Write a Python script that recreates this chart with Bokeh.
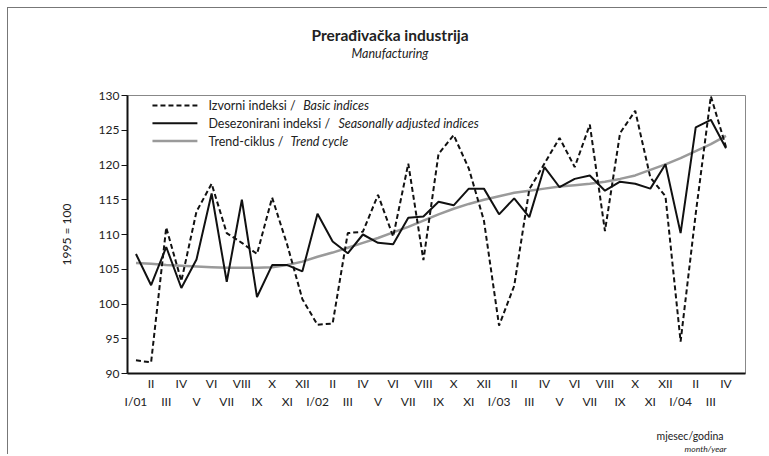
from bokeh.plotting import figure
from bokeh.models import ColumnDataSource, LinearAxis, FixedTicker, Range1d, Title
from bokeh.core.properties import value
from bokeh.embed import file_html
from bokeh.resources import INLINE

# ---- data ----
months = ["I/01", "II", "III", "IV", "V", "VI", "VII", "VIII", "IX", "X", "XI", "XII",
          "I/02", "II", "III", "IV", "V", "VI", "VII", "VIII", "IX", "X", "XI", "XII",
          "I/03", "II", "III", "IV", "V", "VI", "VII", "VIII", "IX", "X", "XI", "XII",
          "I/04", "II", "III", "IV"]
basic = [91.9, 91.6, 111.0, 103.3, 113.3, 117.3, 110.2, 108.8, 107.2, 115.3, 108.5, 100.7,
         97.0, 97.2, 110.2, 110.4, 115.7, 109.7, 120.2, 106.3, 121.6, 124.3, 119.5, 112.0,
         96.9, 102.6, 116.5, 120.2, 123.9, 119.7, 125.8, 110.5, 124.6, 127.8, 118.2, 115.5,
         94.6, 113.0, 129.9, 122.6]
adjusted = [107.2, 102.7, 108.2, 102.3, 106.4, 115.9, 103.2, 115.0, 101.0, 105.6, 105.6, 104.7,
            113.0, 109.0, 107.3, 110.0, 108.8, 108.6, 112.4, 112.6, 114.7, 114.2, 116.6, 116.6,
            112.9, 115.2, 112.5, 119.7, 116.8, 118.0, 118.5, 116.3, 117.6, 117.3, 116.6, 120.1,
            110.2, 125.4, 126.5, 122.4]
trend = [105.9, 105.8, 105.6, 105.5, 105.4, 105.3, 105.2, 105.2, 105.2, 105.3, 105.6, 106.1,
         106.8, 107.4, 108.1, 108.8, 109.5, 110.3, 111.1, 112.0, 112.9, 113.7, 114.4, 115.0,
         115.5, 116.0, 116.3, 116.6, 116.9, 117.1, 117.3, 117.6, 118.0, 118.5, 119.3, 120.1,
         121.0, 122.0, 123.0, 124.2]
y_ticks = [90, 95, 100, 105, 110, 115, 120, 125, 130]

series_roman = ["Izvorni indeksi / ", "Desezonirani indeksi / ", "Trend-ciklus / "]
series_italic = ["Basic indices", "Seasonally adjusted indices", "Trend cycle"]

FONT = "Lato"
TXT = "#222222"

x = list(range(len(months)))
src = ColumnDataSource(dict(x=x, basic=basic, adjusted=adjusted, trend=trend))

p = figure(width=760, height=447, output_backend="svg", toolbar_location=None, tools="",
           x_range=Range1d(-0.56, 40.29), y_range=Range1d(90, 130),
           min_border_left=119, min_border_right=23, min_border_top=87, min_border_bottom=82)
p.background_fill_color = "white"
p.border_fill_color = "white"
p.outline_line_color = "#888888"
p.outline_line_width = 1
p.grid.visible = False

p.line("x", "trend", source=src, line_color="#9a9a9a", line_width=2.5)
p.line("x", "adjusted", source=src, line_color="#111111", line_width=2)
p.line("x", "basic", source=src, line_color="#111111", line_width=2, line_dash="5 3")

# y axis
ya = p.yaxis[0]
ya.ticker = FixedTicker(ticks=y_ticks)
ya.axis_line_color = "#111111"
ya.axis_line_width = 2
ya.major_tick_out = 6
ya.major_tick_in = 0
ya.minor_tick_line_color = None
ya.major_tick_line_color = "#111111"
ya.major_label_text_font = FONT
ya.major_label_text_font_size = "12px"
ya.major_label_text_color = TXT
ya.major_label_standoff = 2
ya.axis_label = "1995 = 100"
ya.axis_label_text_font = FONT
ya.axis_label_text_font_size = "12px"
ya.axis_label_text_font_style = "normal"
ya.axis_label_text_color = TXT
ya.axis_label_standoff = 22

# x axes: two rows of month labels
odd = [i for i in x if i % 2 == 1]
even = [i for i in x if i % 2 == 0]
xa = p.xaxis[0]
xa.ticker = FixedTicker(ticks=odd)
xa.major_label_overrides = {i: months[i] for i in odd}
xa.axis_line_color = "#111111"
xa.axis_line_width = 2
xa.major_tick_line_color = None
xa.minor_tick_line_color = None
xa.major_tick_out = 0
xa.major_tick_in = 0
xa.major_label_standoff = 2
xa.major_label_text_font = FONT
xa.major_label_text_font_size = "12px"
xa.major_label_text_color = TXT

xb = LinearAxis(ticker=FixedTicker(ticks=even),
                major_label_overrides={i: months[i] for i in even})
xb.axis_line_color = None
xb.major_tick_line_color = None
xb.minor_tick_line_color = None
xb.major_tick_out = 0
xb.major_tick_in = 0
xb.major_label_standoff = 0
xb.major_label_text_font = FONT
xb.major_label_text_font_size = "12px"
xb.major_label_text_color = TXT
p.add_layout(xb, "below")

# legend (manual, to allow mixed roman/italic text)
leg_y = [128.55, 126.0, 123.45]
leg = ColumnDataSource(dict(y=leg_y, tx=[4.79] * 3, ix=[11.05, 13.38, 10.21],
                            roman=series_roman, italic=series_italic))
p.segment(x0=1.09, y0=leg_y[0], x1=4.06, y1=leg_y[0], line_color="#111111", line_width=2, line_dash="5 3")
p.segment(x0=1.09, y0=leg_y[1], x1=4.06, y1=leg_y[1], line_color="#111111", line_width=2)
p.segment(x0=1.09, y0=leg_y[2], x1=4.06, y1=leg_y[2], line_color="#9a9a9a", line_width=2.5)
p.text(x="tx", y="y", text="roman", source=leg, text_font=value(FONT), text_font_size="12.5px",
       text_color=TXT, text_baseline="middle", text_align="left")
p.text(x="ix", y="y", text="italic", source=leg, text_font=value(FONT), text_font_size="12.5px",
       text_font_style="italic", text_color=TXT, text_baseline="middle", text_align="left")

# titles above (first added = nearest the frame)
p.add_layout(Title(text=" ", text_font_size="10px", standoff=22), "above")
p.add_layout(Title(text="Manufacturing", align="left", offset=224, standoff=0,
                   text_font=FONT, text_font_size="12.5px", text_font_style="italic",
                   text_color=TXT), "above")
p.add_layout(Title(text="Prerađivačka industrija", align="left", offset=184, standoff=0,
                   text_font=FONT, text_font_size="15.5px", text_font_style="bold",
                   text_color=TXT), "above")

# captions below (after the two axes)
p.add_layout(Title(text=" ", text_font_size="8px", standoff=5), "below")
p.add_layout(Title(text="mjesec/godina", align="right", offset=22, standoff=0,
                   text_font=FONT, text_font_size="10.5px", text_font_style="normal",
                   text_color=TXT), "below")
p.add_layout(Title(text="month/year", align="right", offset=19, standoff=0,
                   text_font=FONT, text_font_size="8.5px", text_font_style="italic",
                   text_color=TXT), "below")

p.styles = {"margin-left": "7px", "margin-top": "7px",
            "border-left": "1px solid #777777", "border-top": "1px solid #777777"}

open("out.html", "w").write(file_html(p, INLINE))
